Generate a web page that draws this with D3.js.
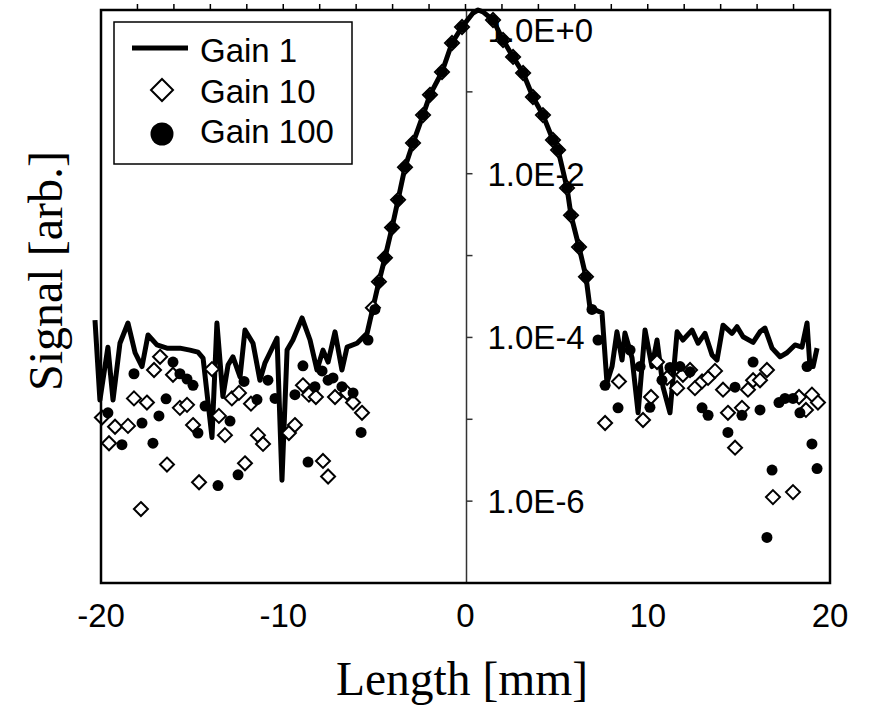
<!DOCTYPE html>
<html>
<head>
<meta charset="utf-8">
<script src="https://cdn.jsdelivr.net/npm/d3@7/dist/d3.min.js"></script>
<style>
    body { margin: 0; background: #fff; }
    svg text { fill: #000; }
</style>
</head>
<body>
<svg id="chart" width="871" height="708"></svg>
<script>
// values (x in mm, signal in arb. units)
var gain1X = [-20.33, -20.06, -19.62, -19.34, -18.96, -18.52, -18.13, -17.75, -17.42, -16.93,
    -16.38, -15.67, -15.12, -14.68, -14.40, -13.91, -13.64, -13.31, -13.03, -12.76,
    -12.37, -12.10, -11.66, -11.28, -11.00, -10.73, -10.34, -10.07, -9.79, -9.47,
    -8.97, -8.53, -8.15, -7.82, -7.54, -7.16, -6.78, -6.50, -5.95, -5.40,
    -5.08, -4.75, -4.42, -4.03, -3.70, -3.32, -2.88, -2.33, -1.95, -1.29,
    -0.74, -0.19, 0.41, 0.69, 0.96, 1.51, 2.06, 2.61, 3.16, 3.70,
    4.25, 4.80, 5.08, 5.57, 5.79, 6.23, 6.61, 6.83, 7.49, 7.76,
    8.04, 8.31, 8.59, 8.75, 9.14, 9.47, 9.85, 10.23, 10.51, 10.84,
    11.22, 11.61, 11.93, 12.43, 12.76, 13.14, 13.53, 13.80, 14.13, 14.62,
    14.90, 15.23, 15.78, 16.16, 16.43, 16.82, 17.26, 17.64, 18.08, 18.46,
    18.74, 18.90, 19.07, 19.29];
var gain1Y = [1.63e-4, 1.72e-5, 7.6e-5, 1.72e-5, 8.5e-5, 1.5e-4, 6.5e-5, 4.4e-5, 1.07e-4, 8.1e-5,
    7.4e-5, 7.4e-5, 7.0e-5, 6.6e-5, 5.6e-5, 6.0e-6, 1.5e-4, 1.9e-5, 4.6e-5, 5.8e-5,
    3.3e-5, 1.23e-4, 8.5e-5, 3.0e-5, 4.9e-5, 6.5e-5, 9.8e-5, 1.8e-6, 7.0e-5, 9.3e-5,
    1.73e-4, 9.3e-5, 4.0e-5, 7.0e-5, 5.0e-5, 1.17e-4, 4.0e-5, 7.6e-5, 8.5e-5, 1.12e-4,
    2.3e-4, 4.8e-4, 9.4e-4, 2.2e-3, 4.8e-3, 1.2e-2, 2.37e-2, 5.2e-2, 9.2e-2, 0.175,
    0.395, 0.62, 0.92, 1.0, 0.95, 0.755, 0.43, 0.267, 0.17, 0.0865,
    0.052, 0.0258, 0.0195, 6.7e-3, 3.1e-3, 1.27e-3, 5.5e-4, 2.3e-4, 2.0e-4, 2.8e-5,
    4.4e-5, 1.17e-4, 5.3e-5, 1.13e-4, 5.6e-5, 1.2e-5, 1.23e-4, 4.4e-5, 9.3e-5, 2.47e-5,
    1.2e-5, 1.17e-4, 9.3e-5, 1.23e-4, 8.5e-5, 1.12e-4, 6.1e-5, 5.3e-5, 1.41e-4, 1.12e-4,
    1.35e-4, 1.02e-4, 8.7e-5, 1.17e-4, 1.3e-4, 7.4e-5, 5.8e-5, 6.5e-5, 8.1e-5, 7.6e-5,
    1.5e-4, 4.4e-5, 4.4e-5, 7.4e-5];

var gain10X = [-19.95, -19.56, -19.23, -18.52, -18.19, -17.81, -17.48, -17.09, -16.76, -16.38,
    -16.05, -15.67, -15.28, -14.95, -14.62, -13.91, -13.53, -13.20, -12.82, -12.43,
    -12.10, -11.77, -11.39, -11.11, -9.69, -9.36, -8.92, -8.59, -8.21, -7.82,
    -7.54, -7.16, -6.50, -6.17, -5.68,
    -5.08, -4.75, -4.42, -4.03, -3.70, -3.32, -2.88, -2.33, -1.95, -1.29,
    -0.74, -0.19, 1.51, 2.06, 2.61, 3.16, 3.70, 4.25, 4.80, 5.08,
    5.57, 5.79, 6.23, 6.61,
    7.66, 8.42, 9.74, 10.18, 10.51, 11.06, 11.61, 11.93, 12.32, 12.59,
    12.98, 13.31, 13.69, 14.13, 14.40, 14.79, 15.17, 15.50, 15.78, 16.16,
    16.54, 16.87, 17.97, 18.30, 18.68, 19.01, 19.34];
var gain10Y = [1.05e-5, 5.1e-6, 8.1e-6, 8.3e-6, 1.8e-5, 8.0e-7, 1.6e-5, 4.0e-5, 5.8e-5, 2.8e-6,
    3.5e-5, 1.38e-5, 1.5e-5, 8.5e-6, 1.7e-6, 4.1e-5, 1.1e-5, 6.4e-6, 1.8e-5, 2.1e-5,
    2.9e-6, 1.55e-5, 6.4e-6, 5.0e-6, 6.8e-6, 8.5e-6, 2.6e-5, 2.0e-5, 1.87e-5, 3.1e-6,
    2.0e-6, 1.87e-5, 2.1e-5, 1.6e-5, 1.2e-5,
    2.3e-4, 4.8e-4, 9.4e-4, 2.2e-3, 4.8e-3, 1.2e-2, 2.37e-2, 5.2e-2, 9.2e-2, 0.175,
    0.395, 0.62, 0.755, 0.43, 0.267, 0.17, 0.0865, 0.052, 0.0258, 0.0195,
    6.7e-3, 3.1e-3, 1.27e-3, 5.5e-4,
    9.0e-6, 2.9e-5, 9.8e-6, 1.87e-5, 5.0e-5, 3.2e-5, 2.4e-5, 3.5e-5, 4.0e-5, 2.4e-5,
    2.9e-5, 3.2e-5, 3.9e-5, 2.3e-5, 1.2e-5, 4.5e-6, 1.38e-5, 2.3e-5, 3.0e-5, 3.0e-5,
    4.0e-5, 1.12e-6, 1.29e-6, 1.87e-5, 1.3e-5, 2.0e-5, 1.6e-5];

var gain100X = [-19.62, -18.85, -18.19, -17.75, -17.15, -16.82, -16.43, -16.05, -15.67, -15.28,
    -14.95, -14.68, -14.29, -13.58, -12.92, -12.48, -12.15, -11.44, -10.84, -10.45,
    -9.36, -8.92, -8.64, -8.26, -7.87, -7.54, -7.27, -6.78, -6.17, -5.73,
    -5.35, -4.97, -4.75, -4.42, -4.03, -3.70, -3.32, -2.88, -2.33, -1.95,
    -1.29, -0.74, -0.19, 1.51, 2.06, 2.61, 3.16, 3.70, 4.25, 4.80,
    5.08, 5.57, 5.79, 6.23, 6.61, 6.94, 7.27,
    7.66, 8.37, 9.03, 9.58, 10.12, 10.78, 11.22, 11.77, 12.32, 12.98,
    13.31, 14.40, 14.79, 15.17, 15.78, 16.16, 16.82, 16.54, 17.20, 17.53,
    17.97, 18.35, 18.74, 19.01, 19.29];
var gain100Y = [1.2e-5, 4.9e-6, 3.6e-5, 9.0e-6, 5.1e-6, 1.1e-5, 1.78e-5, 5.0e-5, 3.6e-5, 3.1e-5,
    2.6e-5, 6.8e-6, 1.45e-5, 1.55e-6, 9.5e-6, 2.1e-6, 2.9e-5, 1.74e-5, 3.0e-5, 1.8e-5,
    2.0e-5, 4.5e-5, 3.0e-6, 2.5e-5, 3.9e-5, 3.0e-5, 3.2e-5, 2.5e-5, 2.1e-5, 6.9e-6,
    9.3e-5, 2.2e-4, 4.8e-4, 9.4e-4, 2.2e-3, 4.8e-3, 1.2e-2, 2.37e-2, 5.2e-2, 9.2e-2,
    0.175, 0.395, 0.62, 0.755, 0.43, 0.267, 0.17, 0.0865, 0.052, 0.0258,
    0.0195, 6.7e-3, 3.1e-3, 1.27e-3, 5.5e-4, 2.2e-4, 9.3e-5,
    2.6e-5, 1.38e-5, 7.0e-5, 4.4e-5, 1.4e-5, 3.0e-5, 4.3e-5, 4.4e-5, 3.8e-5, 1.38e-5,
    1.12e-5, 6.9e-6, 2.47e-5, 1.12e-5, 5.0e-5, 1.3e-5, 2.4e-6, 3.6e-7, 1.6e-5, 1.8e-5,
    1.8e-5, 1.2e-5, 4.4e-5, 5.0e-6, 2.5e-6];

var xTickValues = [-20, -10, 0, 10, 20];
var xMinorTicks = [-18, -16, -14, -12, -10, -8, -6, -4, -2, 0, 2, 4, 6, 8, 10, 12, 14, 16, 18];
var yTickValues = [1e-1, 1e-2, 1e-3, 1e-4, 1e-5, 1e-6];
var yLabelValues = [1, 1e-2, 1e-4, 1e-6];
var yLabels = ["1.0E+0", "1.0E-2", "1.0E-4", "1.0E-6"];
var seriesNames = ["Gain 1", "Gain 10", "Gain 100"];

var svg = d3.select("#chart");
var sans = "'Liberation Sans', Arial, sans-serif";
var serif = "'Liberation Serif', 'Times New Roman', serif";

var x = d3.scaleLinear().domain([-20, 20]).range([101, 830]);
var y = d3.scaleLog().domain([1e-7, 1]).range([583, 10]);

function zip(xs, ys) {
    return xs.map((v, i) => ({ x: v, y: ys[i] }));
}

function diamond(h) {
    return "M0," + -h + "L" + h + ",0L0," + h + "L" + -h + ",0Z";
}

// zero axis with decade ticks
var x0 = Math.round(x(0)) + 0.5;
svg.append("line")
    .attr("x1", x0).attr("x2", x0)
    .attr("y1", y(1)).attr("y2", y(1e-7))
    .attr("stroke", "#333")
    .attr("stroke-width", 1.5);

svg.append("g")
    .selectAll("line")
    .data(yTickValues)
    .join("line")
    .attr("x1", x0).attr("x2", x0 + 6)
    .attr("y1", d => y(d)).attr("y2", d => y(d))
    .attr("stroke", "#333")
    .attr("stroke-width", 1.5);

svg.append("g")
    .selectAll("text")
    .data(yLabelValues)
    .join("text")
    .attr("x", x0 + 21)
    .attr("y", d => Math.max(y(d), 30))
    .attr("dy", "0.36em")
    .attr("font-family", sans)
    .attr("font-size", 33)
    .text((d, i) => yLabels[i]);

// data
var line = d3.line().x(d => x(d.x)).y(d => y(d.y));

svg.append("path")
    .datum(zip(gain1X, gain1Y))
    .attr("d", line)
    .attr("fill", "none")
    .attr("stroke", "#000")
    .attr("stroke-width", 5)
    .attr("stroke-linejoin", "round");

svg.append("g")
    .selectAll("path")
    .data(zip(gain10X, gain10Y))
    .join("path")
    .attr("transform", d => "translate(" + x(d.x) + "," + y(d.y) + ")")
    .attr("d", diamond(7))
    .attr("fill", "#fff")
    .attr("stroke", "#000")
    .attr("stroke-width", 2);

svg.append("g")
    .selectAll("circle")
    .data(zip(gain100X, gain100Y))
    .join("circle")
    .attr("cx", d => x(d.x))
    .attr("cy", d => y(d.y))
    .attr("r", 5.5)
    .attr("fill", "#000");

// frame and top ticks
svg.append("rect")
    .attr("x", x(-20)).attr("y", y(1))
    .attr("width", x(20) - x(-20))
    .attr("height", y(1e-7) - y(1))
    .attr("fill", "none")
    .attr("stroke", "#000")
    .attr("stroke-width", 2.5);

svg.append("g")
    .selectAll("line")
    .data(xMinorTicks)
    .join("line")
    .attr("x1", d => x(d)).attr("x2", d => x(d))
    .attr("y1", y(1)).attr("y2", y(1) - 6)
    .attr("stroke", "#000")
    .attr("stroke-width", 1.5);

svg.append("g")
    .selectAll("text")
    .data(xTickValues)
    .join("text")
    .attr("x", d => x(d))
    .attr("y", 627)
    .attr("text-anchor", "middle")
    .attr("font-family", sans)
    .attr("font-size", 33)
    .text(d => d);

// axis titles
svg.append("text")
    .attr("x", 462)
    .attr("y", 695)
    .attr("text-anchor", "middle")
    .attr("font-family", serif)
    .attr("font-size", 47.5)
    .text("Length [mm]");

svg.append("text")
    .attr("transform", "translate(62,271) rotate(-90)")
    .attr("text-anchor", "middle")
    .attr("font-family", serif)
    .attr("font-size", 48)
    .text("Signal [arb.]");

// legend
var legend = svg.append("g").attr("transform", "translate(114,22)");
legend.append("rect")
    .attr("width", 238).attr("height", 142)
    .attr("fill", "#fff")
    .attr("stroke", "#000")
    .attr("stroke-width", 1.5);

legend.append("line")
    .attr("x1", 18).attr("x2", 74)
    .attr("y1", 26).attr("y2", 26)
    .attr("stroke", "#000")
    .attr("stroke-width", 5);

legend.append("path")
    .attr("transform", "translate(48,68)")
    .attr("d", diamond(11))
    .attr("fill", "#fff")
    .attr("stroke", "#000")
    .attr("stroke-width", 2);

legend.append("circle")
    .attr("cx", 48).attr("cy", 112)
    .attr("r", 11.5)
    .attr("fill", "#000");

legend.selectAll("text.name")
    .data(seriesNames)
    .join("text")
    .attr("class", "name")
    .attr("x", 86)
    .attr("y", (d, i) => 40 + i * 40.5)
    .attr("font-family", sans)
    .attr("font-size", 33)
    .text(d => d);
</script>
</body>
</html>
